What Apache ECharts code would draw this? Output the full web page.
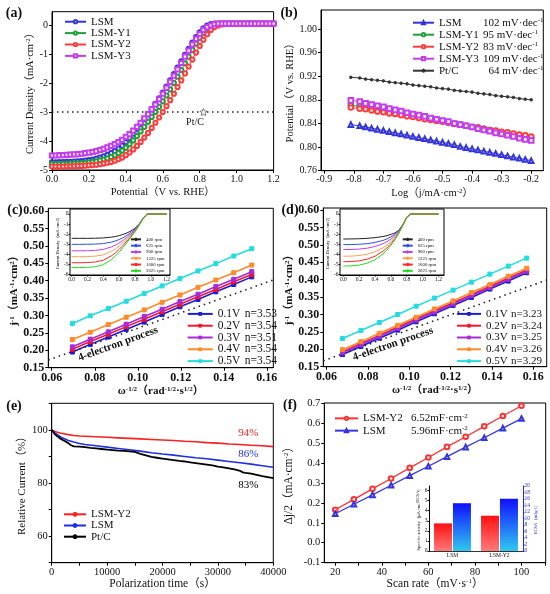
<!DOCTYPE html>
<html><head><meta charset="utf-8">
<script src="https://cdn.jsdelivr.net/npm/echarts@6/dist/echarts.min.js"></script>
<style>html,body{margin:0;padding:0;background:#fff}#c{width:550px;height:594px}</style>
</head><body><div id="c"></div>
<script>
// ---------------- DATA ----------------
// (a) LSV curves
const lsvPotential = [0,0.02,0.04,0.06,0.08,0.1,0.12,0.14,0.16,0.18,0.2,0.22,0.24,0.26,0.28,0.3,0.32,0.34,0.36,0.38,0.4,0.42,0.44,0.46,0.48,0.5,0.52,0.54,0.56,0.58,0.6,0.62,0.64,0.66,0.68,0.7,0.72,0.74,0.76,0.78,0.8,0.82,0.84,0.86,0.88,0.9,0.92,0.94,0.96,0.98,1,1.02,1.04,1.06,1.08,1.1,1.12,1.14,1.16,1.18,1.2];
const lsvLSM = [-4.74,-4.74,-4.73,-4.73,-4.72,-4.72,-4.71,-4.70,-4.69,-4.68,
 -4.66,-4.64,-4.61,-4.57,-4.53,-4.48,-4.42,-4.35,-4.26,-4.16,
 -4.04,-3.90,-3.75,-3.59,-3.42,-3.25,-3.08,-2.91,-2.72,-2.53,
 -2.33,-2.12,-1.91,-1.69,-1.47,-1.25,-1.03,-0.82,-0.61,-0.42,
 -0.25,-0.11,-0.02,0.03,0.05,0.05,0.05,0.05,0.05,0.05,
 0.05,0.05,0.05,0.05,0.05,0.05,0.05,0.05,0.05,0.05,0.05];
const lsvY1 = [-4.80,-4.80,-4.80,-4.79,-4.79,-4.78,-4.78,-4.77,-4.76,-4.75,
 -4.74,-4.72,-4.70,-4.67,-4.64,-4.60,-4.55,-4.49,-4.42,-4.33,
 -4.23,-4.11,-3.98,-3.83,-3.67,-3.51,-3.34,-3.17,-3.00,-2.82,
 -2.63,-2.43,-2.22,-2.00,-1.78,-1.55,-1.32,-1.09,-0.86,-0.64,
 -0.44,-0.27,-0.13,-0.04,0.01,0.04,0.05,0.05,0.05,0.05,
 0.05,0.05,0.05,0.05,0.05,0.05,0.05,0.05,0.05,0.05,0.05];
const lsvY2 = [-4.88,-4.88,-4.88,-4.88,-4.87,-4.87,-4.87,-4.86,-4.86,-4.85,
 -4.84,-4.83,-4.82,-4.80,-4.78,-4.75,-4.72,-4.68,-4.63,-4.57,
 -4.49,-4.40,-4.29,-4.17,-4.03,-3.88,-3.72,-3.55,-3.37,-3.19,
 -3.00,-2.80,-2.59,-2.37,-2.14,-1.91,-1.67,-1.43,-1.19,-0.95,
 -0.72,-0.51,-0.32,-0.17,-0.07,-0.01,0.02,0.04,0.05,0.05,
 0.05,0.05,0.05,0.05,0.05,0.05,0.05,0.05,0.05,0.05,0.05];
const lsvY3 = [-4.50,-4.50,-4.49,-4.49,-4.48,-4.47,-4.46,-4.45,-4.44,-4.42,
 -4.40,-4.38,-4.35,-4.31,-4.27,-4.22,-4.17,-4.11,-4.04,-3.96,
 -3.86,-3.76,-3.64,-3.51,-3.37,-3.22,-3.07,-2.91,-2.74,-2.56,
 -2.37,-2.17,-1.96,-1.75,-1.53,-1.31,-1.09,-0.88,-0.67,-0.48,
 -0.31,-0.17,-0.07,-0.01,0.03,0.05,0.05,0.05,0.05,0.05,
 0.05,0.05,0.05,0.05,0.05,0.05,0.05,0.05,0.05,0.05,0.05];
const aNames = ['LSM','LSM-Y1','LSM-Y2','LSM-Y3'];
const aRefX = [0, 1.2];
const aRefY = [-3, -3];
const aPtcStar = [0.82, -3];

// (b) Tafel
const tafelLog = [-0.81,-0.78,-0.76,-0.74,-0.72,-0.7,-0.68,-0.66,-0.64,-0.62,-0.6,-0.58,-0.56,-0.54,-0.52,-0.5,-0.48,-0.46,-0.44,-0.42,-0.4,-0.38,-0.36,-0.34,-0.32,-0.3,-0.28,-0.26,-0.24,-0.22,-0.2];
const tafelLSM = [0.838,0.836,0.834,0.832,0.830,0.828,0.826,0.824,0.822,0.820,0.818,0.816,0.814,0.812,0.810,0.808,0.806,0.804,0.801,0.799,0.797,0.795,0.793,0.791,0.789,0.787,0.785,0.783,0.781,0.779,0.777];
const tafelY1 = [0.871,0.869,0.867,0.865,0.864,0.862,0.860,0.858,0.856,0.855,0.853,0.851,0.849,0.847,0.845,0.844,0.842,0.840,0.838,0.836,0.834,0.833,0.831,0.829,0.827,0.825,0.823,0.822,0.820,0.818,0.816];
const tafelY2 = [0.867,0.865,0.864,0.862,0.860,0.859,0.857,0.856,0.854,0.852,0.851,0.849,0.847,0.846,0.844,0.843,0.841,0.839,0.838,0.836,0.834,0.833,0.831,0.829,0.828,0.826,0.825,0.823,0.821,0.820,0.818];
const tafelY3 = [0.879,0.877,0.874,0.872,0.870,0.868,0.865,0.863,0.861,0.858,0.856,0.854,0.852,0.849,0.847,0.845,0.843,0.840,0.838,0.836,0.834,0.831,0.829,0.827,0.824,0.822,0.820,0.818,0.815,0.813,0.811];
const tafelPtC = [0.918,0.917,0.915,0.914,0.913,0.912,0.910,0.909,0.908,0.907,0.905,0.904,0.903,0.902,0.900,0.899,0.898,0.896,0.895,0.894,0.893,0.891,0.890,0.889,0.887,0.886,0.885,0.884,0.882,0.881,0.880];
const bNames = ['LSM','LSM-Y1','LSM-Y2','LSM-Y3','Pt/C'];
const bSlopes = ['102','95','83','109','64'];

// (c) K-L plots, LSM-Y2
const klOmegaC = [0.0696,0.0779,0.0863,0.0946,0.1030,0.1113,0.1196,0.1280,0.1363,0.1446,0.1530];
const klC01 = [0.195,0.217,0.238,0.260,0.281,0.303,0.325,0.346,0.368,0.389,0.411];
const klC02 = [0.203,0.225,0.246,0.268,0.289,0.311,0.332,0.354,0.375,0.397,0.418];
const klC03 = [0.210,0.232,0.253,0.275,0.297,0.318,0.340,0.361,0.383,0.404,0.426];
const klC04 = [0.231,0.252,0.274,0.295,0.316,0.338,0.359,0.381,0.402,0.423,0.445];
const klC05 = [0.277,0.299,0.320,0.341,0.363,0.385,0.406,0.428,0.449,0.471,0.492];
const cVolts = ['0.1V','0.2V','0.3V','0.4V','0.5V'];
const cN = ['3.53','3.54','3.51','3.54','3.54'];
const cElecX = [0.0584, 0.163];
const cElecY = [0.172, 0.402];

// (d) K-L plots, LSM
const klOmegaD = [0.0677,0.0766,0.0855,0.0944,0.1033,0.1122,0.1212,0.1301,0.1390,0.1479,0.1568];
const klD01 = [0.185,0.208,0.232,0.255,0.279,0.302,0.326,0.349,0.373,0.396,0.420];
const klD02 = [0.193,0.217,0.240,0.264,0.287,0.311,0.334,0.357,0.381,0.404,0.428];
const klD03 = [0.190,0.213,0.237,0.260,0.284,0.307,0.330,0.354,0.377,0.401,0.424];
const klD04 = [0.199,0.222,0.246,0.269,0.292,0.316,0.339,0.363,0.386,0.410,0.433];
const klD05 = [0.231,0.254,0.277,0.300,0.324,0.347,0.370,0.393,0.416,0.439,0.462];
const dN = ['3.23','3.24','3.25','3.26','3.29'];
const dElecX = [0.0584, 0.1665];
const dElecY = [0.167, 0.399];

// insets (c), (d): LSV at rotation rates
const rpmNames = ['400 rpm','625 rpm','900 rpm','1225 rpm','1600 rpm','2025 rpm'];
const rpmPotC = [0,0.1,0.2,0.3,0.4,0.5,0.55,0.6,0.65,0.7,0.75,0.8,0.85,0.9,0.95,1.0,1.1,1.2];
const rpmC400 = [-2.42,-2.42,-2.42,-2.41,-2.38,-2.30,-2.24,-2.15,-2.03,-1.88,-1.68,-1.42,-1.02,-0.45,-0.02,0,0,0];
const rpmC625 = [-3.02,-3.02,-3.01,-2.99,-2.94,-2.80,-2.69,-2.54,-2.35,-2.12,-1.84,-1.50,-1.05,-0.46,-0.02,0,0,0];
const rpmC900 = [-3.66,-3.66,-3.65,-3.62,-3.52,-3.28,-3.10,-2.88,-2.62,-2.32,-1.98,-1.58,-1.08,-0.47,-0.02,0,0,0];
const rpmC1225 = [-4.25,-4.25,-4.24,-4.19,-4.06,-3.72,-3.48,-3.19,-2.86,-2.50,-2.10,-1.65,-1.11,-0.48,-0.02,0,0,0];
const rpmC1600 = [-4.85,-4.85,-4.83,-4.77,-4.60,-4.17,-3.88,-3.52,-3.12,-2.68,-2.22,-1.72,-1.14,-0.49,-0.02,0,0,0];
const rpmC2025 = [-5.33,-5.33,-5.31,-5.24,-5.05,-4.55,-4.20,-3.79,-3.33,-2.83,-2.31,-1.77,-1.16,-0.50,-0.02,0,0,0];
const rpmPotD = [0,0.1,0.2,0.3,0.4,0.5,0.55,0.6,0.65,0.7,0.75,0.8,0.85,0.9,1.0,1.1,1.2];
const rpmD400 = [-2.49,-2.48,-2.46,-2.42,-2.35,-2.24,-2.15,-2.03,-1.88,-1.62,-1.05,-0.30,0,0,0,0,0];
const rpmD625 = [-3.05,-3.04,-3.01,-2.95,-2.83,-2.63,-2.48,-2.28,-2.03,-1.70,-1.08,-0.31,0,0,0,0,0];
const rpmD900 = [-3.54,-3.53,-3.49,-3.40,-3.23,-2.95,-2.75,-2.50,-2.17,-1.76,-1.10,-0.32,0,0,0,0,0];
const rpmD1225 = [-4.20,-4.19,-4.13,-4.00,-3.76,-3.36,-3.09,-2.75,-2.33,-1.83,-1.12,-0.33,0,0,0,0,0];
const rpmD1600 = [-4.75,-4.73,-4.66,-4.50,-4.20,-3.70,-3.37,-2.96,-2.46,-1.88,-1.14,-0.34,0,0,0,0,0];
const rpmD2025 = [-5.18,-5.16,-5.08,-4.90,-4.55,-3.98,-3.60,-3.13,-2.57,-1.93,-1.16,-0.35,0,0,0,0,0];

// (e) chronoamperometry
const timeE = [0,500,1000,1500,2000,3000,4000,5000,6000,8000,10000,12000,14000,16000,18000,20000,22000,24000,26000,28000,30000,32000,34000,36000,38000,40000];
const eY2 = [100,99.5,99.1,98.8,98.6,98.2,97.9,97.7,97.6,97.4,97.2,97.0,96.8,96.6,96.4,96.2,96.0,95.7,95.5,95.2,95.0,94.7,94.5,94.2,94.0,93.7];
const eLSM = [100,99.0,98.2,97.5,96.9,96.0,95.4,94.9,94.5,94.0,93.5,93.0,92.5,92.0,91.4,90.9,90.5,90.0,89.5,89.1,88.6,88.1,87.6,87.1,86.5,85.9];
const timePtC = [0,500,1000,1500,2000,2500,3000,3500,4000,5000,6000,7000,8000,9000,10000,11000,12000,13000,14000,15000,16000,17000,18000,19000,20000,21000,22000,23000,24000,25000,26000,27000,28000,29000,30000,31000,32000,33000,34000,34500,35000,36000,37000,38000,39000,40000];
const ePtC = [100,98.5,97.6,96.8,96.2,95.6,95.0,94.2,93.8,93.7,93.5,93.2,93.0,92.8,92.6,92.4,92.2,92.1,91.9,91.7,91.0,90.4,89.8,89.5,89.2,88.9,88.6,88.3,88.1,87.8,87.5,87.2,86.9,86.6,86.2,85.9,85.5,85.1,84.6,84.0,83.8,83.5,83.1,82.6,82.2,81.8];
const eNames = ['LSM-Y2','LSM','Pt/C'];
const eFinal = ['94%','86%','83%'];

// (f) double-layer capacitance
const scanRate = [20,28,36,44,52,60,68,76,84,92,100];
const fY2 = [0.165,0.217,0.270,0.322,0.375,0.427,0.480,0.531,0.583,0.635,0.686];
const fLSM = [0.145,0.193,0.240,0.288,0.336,0.383,0.431,0.479,0.526,0.574,0.622];
const fNames = ['LSM-Y2','LSM'];
const fCdl = ['6.52','5.96'];
// inset (f) bars
const barCats = ['LSM','LSM-Y2'];
const specAct = [2.74, 3.5];
const ecsaVals = [14.7, 16.1];

// ---------------- STYLE / BUILD ----------------
const T = '#111';
const SERIF = '"Liberation Serif","Noto Sans CJK SC",serif';
const zw = n => '\u200b'.repeat(n);
const strip = s => s.replace(/\u200b/g, '');
const zip = (xs, ys) => xs.map((x, i) => [x, ys[i]]);
const f0 = v => String(Math.round(v));
const f1 = v => v.toFixed(1);
const f2 = v => v.toFixed(2);
function supRich(fs, fw, color, nw) {
  const r = {
    s: {fontSize: Math.max(4, Math.round(fs * 0.62)), fontFamily: SERIF, fontWeight: fw || 'normal', color: color || T, verticalAlign: 'top'},
    n: {fontSize: fs, fontFamily: SERIF, fontWeight: fw || 'normal', color: color || T}
  };
  if (nw) r.n.width = nw;
  return r;
}
function ax(o) {
  const fw = o.fw || 'normal';
  const lc = o.lc || '#000';
  const a = {
    type: 'value', gridIndex: o.grid, min: o.min, max: o.max,
    axisLine: {show: true, onZero: false, lineStyle: {color: lc, width: 1}},
    axisTick: {show: true, length: o.tl || 3, customValues: o.ticks || o.labels, lineStyle: {color: lc, width: 1}},
    axisLabel: {customValues: o.labels, formatter: o.fmt, fontSize: o.fs, fontFamily: SERIF, fontWeight: fw, color: o.tc || T, margin: o.margin == null ? 4 : o.margin},
    splitLine: {show: false},
    name: o.name, nameLocation: 'middle', nameGap: o.gap,
    nameTextStyle: {fontSize: o.nfs, fontFamily: SERIF, fontWeight: o.nfw || fw, color: o.tc || T, rich: supRich(o.nfs, o.nfw || fw, o.tc)}
  };
  if (o.pos) a.position = o.pos;
  return a;
}
function ser(o) {
  return {
    type: 'line', name: o.name, xAxisIndex: o.g, yAxisIndex: o.y == null ? o.g : o.y,
    data: o.data, symbol: o.sym || 'none', symbolSize: o.ss || 4, showSymbol: !!o.sym,
    lineStyle: {color: o.c, width: o.w || 1.2, type: o.lt || 'solid'},
    itemStyle: {color: o.c, borderColor: o.c, borderWidth: o.bw || 1},
    animation: false, silent: true, z: o.z || 2, clip: true
  };
}
function leg(o) {
  return {
    show: true, selectedMode: false, orient: 'vertical', left: o.left, top: o.top, padding: 0,
    itemWidth: o.iw, itemHeight: o.ih || 5, itemGap: 0, data: o.data,
    itemStyle: {borderWidth: 1},
    formatter: o.fmt || (n => strip(n)),
    textStyle: {fontSize: o.fs, fontFamily: SERIF, fontWeight: o.fw || 'normal', color: T, lineHeight: o.lh, rich: supRich(o.fs, o.fw, T, o.nw)}
  };
}

const cA = ['#3434dc', '#1f9e3a', '#ff3b3b', '#c63cf0'];
const cPt = '#333';
const cK = ['#1c1cd4', '#f5162a', '#a82ad8', '#ff8a2a', '#22dde0'];
const cR = ['#222', '#3050e0', '#c040f0', '#ffa050', '#ff2525', '#22dd22'];

const grids = [
  {left: 52, top: 11.7, width: 221.6, height: 158.3},
  {left: 321, top: 10, width: 222.3, height: 160.7},
  {left: 48.3, top: 208.3, width: 225, height: 159.4},
  {left: 323.3, top: 208, width: 223.4, height: 158.7},
  {left: 51.7, top: 403.3, width: 221.6, height: 159.4},
  {left: 324.3, top: 403, width: 221.4, height: 159.7},
  {left: 70, top: 209, width: 100, height: 66, backgroundColor: '#fff'},
  {left: 340, top: 209, width: 104, height: 66, backgroundColor: '#fff'},
  {left: 429, top: 486, width: 94, height: 65, show: false}
].map((g, i) => Object.assign({show: true, borderColor: '#000', borderWidth: 1, backgroundColor: 'transparent', containLabel: false, z: i >= 6 ? 5 : 0}, g));

const xAxes = [
  ax({grid: 0, min: 0, max: 1.2, labels: [0,0.2,0.4,0.6,0.8,1.0,1.2], fmt: f1, fs: 10, name: 'Potential（V vs. RHE）', nfs: 10.5, gap: 17}),
  ax({grid: 1, min: -0.911, max: -0.159, labels: [-0.9,-0.8,-0.7,-0.6,-0.5,-0.4,-0.3,-0.2], fmt: f1, fs: 10, name: 'Log（j/mA·cm{s|-2}）', nfs: 10.5, gap: 17}),
  ax({grid: 2, min: 0.0584, max: 0.163, labels: [0.06,0.08,0.10,0.12,0.14,0.16], fmt: f2, fs: 12, fw: 'bold', name: 'ω{s|-1/2}（rad{s|-1/2}·s{s|1/2}）', nfs: 11, gap: 18}),
  ax({grid: 3, min: 0.0584, max: 0.1665, labels: [0.06,0.08,0.10,0.12,0.14,0.16], fmt: f2, fs: 12, fw: 'bold', name: 'ω{s|-1/2}（rad{s|-1/2}·s{s|1/2}）', nfs: 11, gap: 18}),
  ax({grid: 4, min: 0, max: 40000, labels: [0,10000,20000,30000,40000], ticks: [0,5000,10000,15000,20000,25000,30000,35000,40000], fmt: f0, fs: 10.5, name: 'Polarization time（s）', nfs: 11.5, gap: 15}),
  ax({grid: 5, min: 15.3, max: 110.4, labels: [20,40,60,80,100], ticks: [20,30,40,50,60,70,80,90,100,110], fmt: f0, fs: 10.5, name: 'Scan rate（mV·s{s|-1}）', nfs: 11.5, gap: 15}),
  ax({grid: 6, min: -0.021, max: 1.242, labels: [0,0.2,0.4,0.6,0.8,1.0,1.2], fmt: f1, fs: 5.5, tl: 1.5, margin: 1.5}),
  ax({grid: 7, min: -0.042, max: 1.27, labels: [0,0.2,0.4,0.6,0.8,1.0,1.2], fmt: f1, fs: 5.5, tl: 1.5, margin: 1.5}),
  {type: 'category', gridIndex: 8, data: barCats, axisLine: {lineStyle: {color: '#000', width: 0.8}}, axisTick: {show: false},
   axisLabel: {fontSize: 5.5, fontFamily: SERIF, color: T, margin: 2}}
];
const yAxes = [
  ax({grid: 0, min: -5, max: 0.46, labels: [-5,-4,-3,-2,-1,0], fmt: f0, fs: 10, name: 'Current Density（mA·cm{s|-2}）', nfs: 10.5, gap: 17}),
  ax({grid: 1, min: 0.76, max: 1.032, labels: [0.76,0.80,0.84,0.88,0.92,0.96,1.00], fmt: f2, fs: 10, name: 'Potential（V vs. RHE）', nfs: 10.5, gap: 24}),
  ax({grid: 2, min: 0.15, max: 0.608, labels: [0.15,0.20,0.25,0.30,0.35,0.40,0.45,0.50,0.55,0.60], fmt: f2, fs: 12, fw: 'bold', name: 'j{s|-1}（mA{s|-1}·cm{s|2}）', nfs: 11, gap: 29}),
  ax({grid: 3, min: 0.15, max: 0.606, labels: [0.15,0.20,0.25,0.30,0.35,0.40,0.45,0.50,0.55,0.60], fmt: f2, fs: 12, fw: 'bold', name: 'j{s|-1}（mA{s|-1}·cm{s|2}）', nfs: 11, gap: 29}),
  ax({grid: 4, min: 50, max: 110, labels: [60,80,100], ticks: [50,60,70,80,90,100,110], fmt: f0, fs: 10.5, name: 'Relative Current（%）', nfs: 11, gap: 21}),
  ax({grid: 5, min: -0.1, max: 0.7, labels: [-0.1,0,0.1,0.2,0.3,0.4,0.5,0.6,0.7], fmt: f1, fs: 10.5, name: 'Δj/2（mA·cm{s|-2}）', nfs: 11.5, gap: 30}),
  ax({grid: 6, min: -6.07, max: 0.5, labels: [-6,-5,-4,-3,-2,-1,0], fmt: f0, fs: 5.5, tl: 1.5, margin: 1.5, name: 'Current Density（mA cm{s|-2}）', nfs: 4.5, gap: 6}),
  ax({grid: 7, min: -6.07, max: 0.5, labels: [-6,-5,-4,-3,-2,-1,0], fmt: f0, fs: 5.5, tl: 1.5, margin: 1.5, name: 'Current Density（mA cm{s|-2}）', nfs: 4.5, gap: 6}),
  ax({grid: 8, min: 0, max: 6.45, labels: [0,1,2,3,4,5,6], fmt: f0, fs: 5.5, tl: 1.5, margin: 1.5, name: 'Specific activity（μA cm{s|-2}{s|ECSA}）', nfs: 4.5, gap: 6}),
  ax({grid: 8, min: 0, max: 20, labels: [0,2,4,6,8,10,12,14,16,18,20], fmt: f0, fs: 5.5, tl: 1.5, margin: 1.5, lc: '#2a2ae0', tc: '#2a2ae0', pos: 'right', name: 'ECSA（m{s|2}g{s|-1}）', nfs: 4.5, gap: 8})
];

const series = [];
// (a)
[lsvLSM, lsvY1, lsvY2, lsvY3].forEach((d, i) => series.push(ser({g: 0, name: aNames[i], data: zip(lsvPotential, d), c: cA[i], sym: i === 3 ? 'emptyRect' : 'emptyCircle', ss: 4.2, w: 1})));
series.push(ser({g: 0, name: 'ref', data: zip(aRefX, aRefY), c: '#222', lt: [1.5, 3.5], w: 1.5}));
series.push({type: 'scatter', xAxisIndex: 0, yAxisIndex: 0, data: [aPtcStar], symbol: 'path://M0,-10L2.9,-4L9.5,-3.1L4.7,1.5L5.9,8.1L0,5L-5.9,8.1L-4.7,1.5L-9.5,-3.1L-2.9,-4Z', symbolSize: 7,
  itemStyle: {color: '#fff', borderColor: '#333', borderWidth: 0.8}, animation: false, silent: true, z: 4});
// (b)
const bSyms = ['emptyTriangle', 'emptyCircle', 'emptyCircle', 'emptyRect', 'circle'];
[tafelLSM, tafelY1, tafelY2, tafelY3, tafelPtC].forEach((d, i) => series.push(ser({g: 1, name: bNames[i] + zw(1), data: zip(tafelLog, d), c: i === 4 ? cPt : cA[i], sym: bSyms[i], ss: i === 4 ? 2.6 : 4.6, w: 1})));
// (c)
[klC01, klC02, klC03, klC04, klC05].forEach((d, i) => series.push(ser({g: 2, name: cVolts[i], data: zip(klOmegaC, d), c: cK[i], sym: 'rect', ss: 4, w: 1.6})));
series.push(ser({g: 2, name: 'e4c', data: zip(cElecX, cElecY), c: '#222', lt: [1.5, 4], w: 1.6}));
// (d)
[klD01, klD02, klD03, klD04, klD05].forEach((d, i) => series.push(ser({g: 3, name: cVolts[i] + zw(1), data: zip(klOmegaD, d), c: cK[i], sym: 'rect', ss: 4, w: 1.6})));
series.push(ser({g: 3, name: 'e4d', data: zip(dElecX, dElecY), c: '#222', lt: [1.5, 4], w: 1.6}));
// (e)
series.push(ser({g: 4, name: eNames[0] + zw(2), data: zip(timeE, eY2), c: '#ff1f1f', w: 1.6}));
series.push(ser({g: 4, name: eNames[1] + zw(2), data: zip(timeE, eLSM), c: '#1f2fe0', w: 1.6}));
series.push(ser({g: 4, name: eNames[2] + zw(2), data: zip(timePtC, ePtC), c: '#000', w: 1.8}));
// (f)
series.push(ser({g: 5, name: fNames[0] + zw(3), data: zip(scanRate, fY2), c: '#ff3030', sym: 'emptyCircle', ss: 4.6, w: 1.3}));
series.push(ser({g: 5, name: fNames[1] + zw(3), data: zip(scanRate, fLSM), c: '#3535e0', sym: 'emptyTriangle', ss: 4.6, w: 1.3}));
// insets (c),(d)
[rpmC400, rpmC625, rpmC900, rpmC1225, rpmC1600, rpmC2025].forEach((d, i) => series.push(ser({g: 6, name: rpmNames[i], data: zip(rpmPotC, d), c: cR[i], w: 1, z: 6})));
[rpmD400, rpmD625, rpmD900, rpmD1225, rpmD1600, rpmD2025].forEach((d, i) => series.push(ser({g: 7, name: rpmNames[i] + zw(1), data: zip(rpmPotD, d), c: cR[i], w: 1, z: 6})));
// inset (f) bars
series.push({type: 'bar', name: 'SA', xAxisIndex: 8, yAxisIndex: 8, data: specAct, barWidth: 18, barGap: '5%', animation: false, silent: true, z: 6,
  itemStyle: {color: {type: 'linear', x: 0, y: 0, x2: 0, y2: 1, colorStops: [{offset: 0, color: '#ff1010'}, {offset: 1, color: '#ff7a7a'}]}}});
series.push({type: 'bar', name: 'ECSA', xAxisIndex: 8, yAxisIndex: 9, data: ecsaVals, barWidth: 18, barGap: '5%', animation: false, silent: true, z: 6,
  itemStyle: {color: {type: 'linear', x: 0, y: 0, x2: 0, y2: 1, colorStops: [{offset: 0, color: '#1010ff'}, {offset: 1, color: '#30c8f0'}]}}});

const legends = [
  leg({left: 64, top: 16, iw: 21, ih: 4, fs: 11, lh: 11.4, data: aNames}),
  leg({left: 412, top: 16.7, iw: 21, ih: 4, fs: 11, lh: 12, nw: 44, data: bNames.map(n => n + zw(1)),
    fmt: n => { const i = bNames.indexOf(strip(n)); return '{n|' + strip(n) + '}' + (i === 4 ? '  ' : '') + bSlopes[i] + ' mV·dec{s|-1}'; }}),
  leg({left: 186.7, top: 308, iw: 25, ih: 3.5, fs: 11.5, lh: 11.8, nw: 27, data: cVolts,
    fmt: n => { const i = cVolts.indexOf(strip(n)); return '{n|' + strip(n) + '}n=' + cN[i]; }}),
  leg({left: 456, top: 308, iw: 24, ih: 3.5, fs: 11, lh: 11.8, nw: 25, data: cVolts.map(n => n + zw(1)),
    fmt: n => { const i = cVolts.indexOf(strip(n)); return '{n|' + strip(n) + '}n=' + dN[i]; }}),
  leg({left: 63, top: 508.7, iw: 22, fs: 11, lh: 11.2, data: eNames.map(n => n + zw(2))}),
  leg({left: 334, top: 412.2, iw: 23, ih: 4, fs: 11, lh: 12.3, nw: 48, data: fNames.map(n => n + zw(3)),
    fmt: n => { const i = fNames.indexOf(strip(n)); return '{n|' + strip(n) + '}' + fCdl[i] + 'mF·cm{s|-2}'; }}),
  leg({left: 130, top: 236.2, iw: 10, ih: 3, fs: 4.8, lh: 6.3, data: rpmNames}),
  leg({left: 401.7, top: 236.2, iw: 10, ih: 3, fs: 4.8, lh: 6.3, data: rpmNames.map(n => n + zw(1))})
];
legends.forEach(l => { l.z = 10; });

function txt(x, y, s, o) {
  o = o || {};
  return {type: 'text', x: x, y: y, rotation: o.rot || 0, z: 20, silent: true,
    style: {text: s, fill: o.c || T, font: (o.fw || 'normal') + ' ' + (o.fs || 11) + 'px ' + SERIF, align: o.align || 'center', verticalAlign: 'middle'}};
}
const graphics = [
  txt(14, 13, '(a)', {fs: 14, fw: 'bold'}),
  txt(289, 13, '(b)', {fs: 14, fw: 'bold'}),
  txt(15, 210, '(c)', {fs: 14, fw: 'bold'}),
  txt(290, 210, '(d)', {fs: 14, fw: 'bold'}),
  txt(14, 406, '(e)', {fs: 14, fw: 'bold'}),
  txt(290, 405, '(f)', {fs: 14, fw: 'bold'}),
  txt(195, 122.7, 'Pt/C', {fs: 10}),
  txt(118, 344, '4-electron process', {fs: 11, fw: 'bold', rot: 20 * Math.PI / 180}),
  txt(393, 344, '4-electron process', {fs: 11, fw: 'bold', rot: 19 * Math.PI / 180}),
  txt(248.3, 433.3, eFinal[0], {fs: 11, c: '#ff2020'}),
  txt(248.3, 454, eFinal[1], {fs: 11, c: '#2030e0'}),
  txt(248.3, 485, eFinal[2], {fs: 11, c: '#000'})
];

const chart = echarts.init(document.getElementById('c'), null, {renderer: 'canvas'});
chart.setOption({
  backgroundColor: '#fff',
  animation: false,
  textStyle: {fontFamily: SERIF},
  grid: grids,
  xAxis: xAxes,
  yAxis: yAxes,
  legend: legends,
  series: series,
  graphic: graphics
});
</script>
</body></html>
